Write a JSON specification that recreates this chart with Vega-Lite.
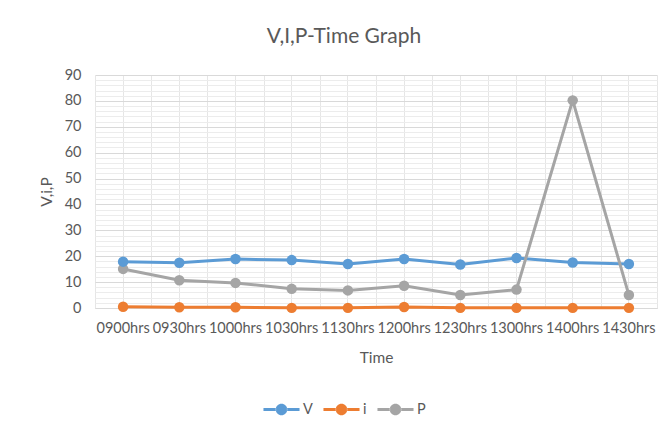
{
  "$schema": "https://vega.github.io/schema/vega-lite/v6.json",
  "width": 562,
  "height": 233,
  "autosize": {"type": "none"},
  "padding": {"left": 95, "top": 75, "right": 8, "bottom": 122},
  "background": "white",
  "title": {"text": "V,I,P-Time Graph", "font": "Lato", "fontSize": 21, "fontWeight": "normal", "color": "#595959", "offset": 20, "dx": -32},
  "config": {"view": {"stroke": null}, "font": "Lato"},
  "data": {"values": [
    {"Time": "0900hrs", "series": "V", "value": 17.9},
    {"Time": "0930hrs", "series": "V", "value": 17.5},
    {"Time": "1000hrs", "series": "V", "value": 18.9},
    {"Time": "1030hrs", "series": "V", "value": 18.5},
    {"Time": "1130hrs", "series": "V", "value": 17.0},
    {"Time": "1200hrs", "series": "V", "value": 18.9},
    {"Time": "1230hrs", "series": "V", "value": 16.8},
    {"Time": "1300hrs", "series": "V", "value": 19.3},
    {"Time": "1400hrs", "series": "V", "value": 17.6},
    {"Time": "1430hrs", "series": "V", "value": 17.0},
    {"Time": "0900hrs", "series": "i", "value": 0.5},
    {"Time": "0930hrs", "series": "i", "value": 0.3},
    {"Time": "1000hrs", "series": "i", "value": 0.3},
    {"Time": "1030hrs", "series": "i", "value": 0.05},
    {"Time": "1130hrs", "series": "i", "value": 0.05},
    {"Time": "1200hrs", "series": "i", "value": 0.4},
    {"Time": "1230hrs", "series": "i", "value": 0.05},
    {"Time": "1300hrs", "series": "i", "value": 0.05},
    {"Time": "1400hrs", "series": "i", "value": 0.05},
    {"Time": "1430hrs", "series": "i", "value": 0.05},
    {"Time": "0900hrs", "series": "P", "value": 15.1},
    {"Time": "0930hrs", "series": "P", "value": 10.7},
    {"Time": "1000hrs", "series": "P", "value": 9.7},
    {"Time": "1030hrs", "series": "P", "value": 7.4},
    {"Time": "1130hrs", "series": "P", "value": 6.8},
    {"Time": "1200hrs", "series": "P", "value": 8.6},
    {"Time": "1230hrs", "series": "P", "value": 5.0},
    {"Time": "1300hrs", "series": "P", "value": 7.1},
    {"Time": "1400hrs", "series": "P", "value": 80.2},
    {"Time": "1430hrs", "series": "P", "value": 5.0}
  ]},
  "layer": [
    {
      "mark": {"type": "point", "opacity": 0},
      "encoding": {
        "x": {"field": "Time", "type": "nominal", "sort": null,
              "scale": {"type": "band", "paddingInner": 0, "paddingOuter": 0},
              "axis": {"tickBand": "extent", "grid": true, "gridColor": "#e6e6e6", "labels": false, "ticks": false, "domain": false, "title": null, "orient": "bottom"}},
        "y": {"field": "value", "type": "quantitative",
              "scale": {"domain": [0, 90], "nice": false},
              "axis": {"values": [2,4,6,8,12,14,16,18,22,24,26,28,32,34,36,38,42,44,46,48,52,54,56,58,62,64,66,68,72,74,76,78,82,84,86,88], "grid": true, "gridColor": "#ececec", "labels": false, "ticks": false, "domain": false, "title": null, "orient": "left"}}
      }
    },
    {
      "mark": {"type": "line", "strokeWidth": 3, "point": {"filled": true, "size": 110}},
      "encoding": {
        "x": {"field": "Time", "type": "nominal", "sort": null,
              "axis": {"title": "Time", "titleFont": "Lato", "titleFontSize": 15.5, "titleFontWeight": "normal", "titleColor": "#595959", "titlePadding": 16,
                       "labelFont": "Lato", "labelFontSize": 14.5, "labelColor": "#595959", "labelAngle": 0, "labelOverlap": false, "labelLimit": 0, "labelPadding": 13,
                       "ticks": false, "domainColor": "#d9d9d9", "grid": true, "gridColor": "#e6e6e6", "orient": "bottom"}},
        "y": {"field": "value", "type": "quantitative",
              "axis": {"values": [0,10,20,30,40,50,60,70,80,90], "title": "V,i,P", "titleFont": "Lato", "titleFontSize": 15.5, "titleFontWeight": "normal", "titleColor": "#595959", "titlePadding": 10,
                       "labelFont": "Lato", "labelFontSize": 14.5, "labelColor": "#595959", "labelPadding": 14,
                       "ticks": false, "domain": false, "grid": true, "gridColor": "#d9d9d9", "orient": "left"}},
        "color": {"field": "series", "type": "nominal",
                  "scale": {"domain": ["V", "i", "P"], "range": ["#5B9BD5", "#ED7D31", "#A5A5A5"]},
                  "legend": {"orient": "none", "legendX": 168, "legendY": 316, "direction": "horizontal", "title": null,
                             "symbolType": "M-1,-0.09L-0.3,-0.09L-0.3,0.09L-1,0.09Z M0.3,-0.09L1,-0.09L1,0.09L0.3,0.09Z M-0.32,0A0.32,0.32 0 1 0 0.32,0A0.32,0.32 0 1 0 -0.32,0Z",
                             "symbolSize": 1300, "symbolStrokeWidth": 0,
                             "labelFont": "Lato", "labelFontSize": 14.5, "labelColor": "#595959", "labelOffset": 3, "columnPadding": 10,
                             "encode": {"symbols": {"update": {"fill": {"scale": "color", "field": "value"}, "fillOpacity": {"value": 1}, "strokeWidth": {"value": 0}}}}}},
        "order": {"field": "series"}
      }
    }
  ],
  "resolve": {"axis": {"x": "independent", "y": "independent"}}
}
